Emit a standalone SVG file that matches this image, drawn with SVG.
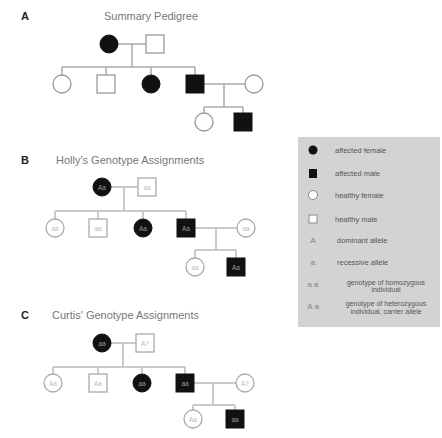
<svg xmlns="http://www.w3.org/2000/svg" width="442" height="438" viewBox="0 0 442 438">
<style>
.lbl{font-family:"Liberation Sans",Arial,sans-serif;font-size:11px;font-weight:bold;fill:#222}
.ttl{font-family:"Liberation Sans",Arial,sans-serif;font-size:11px;fill:#777}
.lnA{stroke:#aaa;stroke-width:1.5;fill:none}
.lnB{stroke:#bbb;stroke-width:1.5;fill:none}
.aff{fill:#111;stroke:#111;stroke-width:1}
.hA{fill:#fff;stroke:#999;stroke-width:1.3}
.hB{fill:#fff;stroke:#aaa;stroke-width:1.3}
.gt{font-family:"Liberation Sans",Arial,sans-serif;font-size:6.5px;text-anchor:middle;fill:#999}
.gw{font-family:"Liberation Sans",Arial,sans-serif;font-size:6.5px;text-anchor:middle;fill:#bbb}
.lg{font-family:"Liberation Sans",Arial,sans-serif;font-size:7.5px;fill:#555}
.lgc{font-family:"Liberation Sans",Arial,sans-serif;font-size:7px;fill:#555;text-anchor:middle}
.lsym{font-family:"Liberation Sans",Arial,sans-serif;font-size:8px;font-weight:bold;fill:#999;text-anchor:middle}
</style>
<rect width="442" height="438" fill="#fff"/>

<!-- Panel labels and titles -->
<text class="lbl" x="21" y="20">A</text>
<text class="ttl" x="151" y="20" text-anchor="middle">Summary Pedigree</text>
<text class="lbl" x="21" y="164">B</text>
<text class="ttl" x="56" y="164">Holly's Genotype Assignments</text>
<text class="lbl" x="21" y="319">C</text>
<text class="ttl" x="52" y="319">Curtis' Genotype Assignments</text>

<!-- Connectors -->
<g id="connectors">
  <path class="lnA" d="M118 44H146 M132 44V67 M62 67H195 M62 67V75 M106 67V75 M151 67V75 M195 67V75 M204 84H245 M224 84V107 M204 107H243 M204 107V113 M243 107V113"/>
  <path class="lnB" d="M111 187H138 M124 187V211 M55 211H186 M55 211V219 M98 211V219 M143 211V219 M186 211V219 M195 228H237 M216 228V250 M195 250H236 M195 250V258 M236 250V258"/>
  <path class="lnB" d="M111 343H136 M123 343V367 M53 367H185 M53 367V374 M98 367V374 M142 367V374 M185 367V374 M194 383H236 M213 383V405 M193 405H235 M193 405V410 M235 405V410"/>
</g>

<!-- Panel A -->
<g id="A-I1"><circle class="aff" cx="109" cy="44" r="9"/></g>
<g id="A-I2"><rect class="hA" x="146" y="35" width="18" height="18"/></g>
<g id="A-II1"><circle class="hA" cx="62" cy="84" r="9"/></g>
<g id="A-II2"><rect class="hA" x="97" y="75" width="18" height="18"/></g>
<g id="A-II3"><circle class="aff" cx="151" cy="84" r="9"/></g>
<g id="A-II4"><rect class="aff" x="186" y="75" width="18" height="18"/></g>
<g id="A-II5"><circle class="hA" cx="254" cy="84" r="9"/></g>
<g id="A-III1"><circle class="hA" cx="204" cy="122" r="9"/></g>
<g id="A-III2"><rect class="aff" x="234" y="113" width="18" height="18"/></g>

<!-- Panel B -->
<g id="B-I1"><circle class="aff" cx="102" cy="187" r="9"/><text class="gt" x="102" y="189.5">Aa</text></g>
<g id="B-I2"><rect class="hB" x="138" y="178" width="18" height="18"/><text class="gw" x="147" y="189.5">aa</text></g>
<g id="B-II1"><circle class="hB" cx="55" cy="228" r="9"/><text class="gw" x="55" y="230.5">aa</text></g>
<g id="B-II2"><rect class="hB" x="89" y="219" width="18" height="18"/><text class="gw" x="98" y="230.5">aa</text></g>
<g id="B-II3"><circle class="aff" cx="143" cy="228" r="9"/><text class="gt" x="143" y="230.5">Aa</text></g>
<g id="B-II4"><rect class="aff" x="177" y="219" width="18" height="18"/><text class="gt" x="186" y="230.5">Aa</text></g>
<g id="B-II5"><circle class="hB" cx="246" cy="228" r="9"/><text class="gw" x="246" y="230.5">aa</text></g>
<g id="B-III1"><circle class="hB" cx="195" cy="267" r="9"/><text class="gw" x="195" y="269.5">aa</text></g>
<g id="B-III2"><rect class="aff" x="227" y="258" width="18" height="18"/><text class="gt" x="236" y="269.5">Aa</text></g>

<!-- Panel C -->
<g id="C-I1"><circle class="aff" cx="102" cy="343" r="9"/><text class="gt" x="102" y="345.5">aa</text></g>
<g id="C-I2"><rect class="hB" x="136" y="334" width="18" height="18"/><text class="gw" x="145" y="345.5">A?</text></g>
<g id="C-II1"><circle class="hB" cx="53" cy="383" r="9"/><text class="gw" x="53" y="385.5">Aa</text></g>
<g id="C-II2"><rect class="hB" x="89" y="374" width="18" height="18"/><text class="gw" x="98" y="385.5">Aa</text></g>
<g id="C-II3"><circle class="aff" cx="142" cy="383" r="9"/><text class="gt" x="142" y="385.5">aa</text></g>
<g id="C-II4"><rect class="aff" x="176" y="374" width="18" height="18"/><text class="gt" x="185" y="385.5">aa</text></g>
<g id="C-II5"><circle class="hB" cx="245" cy="383" r="9"/><text class="gw" x="245" y="385.5">A?</text></g>
<g id="C-III1"><circle class="hB" cx="193" cy="419" r="9"/><text class="gw" x="193" y="421.5">Aa</text></g>
<g id="C-III2"><rect class="aff" x="226" y="410" width="18" height="18"/><text class="gt" x="235" y="421.5">aa</text></g>

<!-- Legend -->
<g id="legend">
  <rect x="298" y="137" width="142" height="190" fill="#d3d3d3"/>
  <circle cx="313" cy="150" r="4.5" fill="#111"/>
  <text class="lg" x="335" y="152.5">affected female</text>
  <rect x="309" y="169" width="8" height="9" fill="#111"/>
  <text class="lg" x="335" y="176">affected male</text>
  <circle cx="313" cy="195" r="4.5" fill="#fff" stroke="#888"/>
  <text class="lg" x="335" y="197.5">healthy female</text>
  <rect x="309" y="215" width="8" height="8" fill="#fff" stroke="#888"/>
  <text class="lg" x="335" y="221.5">healthy male</text>
  <text class="lsym" x="313" y="243">A</text>
  <text class="lg" x="337" y="243">dominant allele</text>
  <text class="lsym" x="313" y="265">a</text>
  <text class="lg" x="337" y="265">recessive allele</text>
  <text class="lsym" x="313" y="287" font-size="7">a a</text>
  <text class="lgc" x="386" y="284.5">genotype of homozygous</text>
  <text class="lgc" x="386" y="292">individual</text>
  <text class="lsym" x="313" y="309" font-size="7">A a</text>
  <text class="lgc" x="386" y="306">genotype of heterozygous</text>
  <text class="lgc" x="386" y="313.5">individual, carrier allele</text>
</g>
</svg>
